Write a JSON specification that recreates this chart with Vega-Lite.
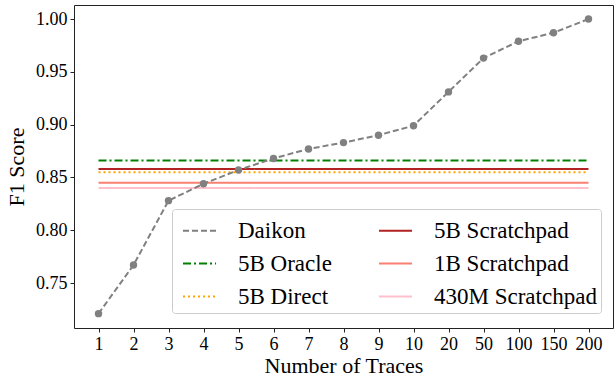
{
  "$schema": "https://vega.github.io/schema/vega-lite/v6.json",
  "autosize": {"type": "none"},
  "padding": {"left": 74, "top": 5, "right": 1, "bottom": 49},
  "width": 539,
  "height": 323,
  "background": "white",
  "config": {
    "font": "Liberation Serif",
    "view": {"stroke": "#222", "strokeWidth": 1},
    "axis": {"grid": false, "labelFont": "Liberation Serif", "titleFont": "Liberation Serif", "labelFontSize": 18, "titleFontSize": 22, "titleFontWeight": "normal", "labelColor": "#000", "titleColor": "#000", "tickColor": "#222", "domain": false, "tickSize": 4}
  },
  "datasets": {
    "daikon": [
      {"traces": "1", "f1": 0.721, "series": "Daikon"},
      {"traces": "2", "f1": 0.767, "series": "Daikon"},
      {"traces": "3", "f1": 0.828, "series": "Daikon"},
      {"traces": "4", "f1": 0.844, "series": "Daikon"},
      {"traces": "5", "f1": 0.857, "series": "Daikon"},
      {"traces": "6", "f1": 0.868, "series": "Daikon"},
      {"traces": "7", "f1": 0.877, "series": "Daikon"},
      {"traces": "8", "f1": 0.883, "series": "Daikon"},
      {"traces": "9", "f1": 0.890, "series": "Daikon"},
      {"traces": "10", "f1": 0.899, "series": "Daikon"},
      {"traces": "20", "f1": 0.931, "series": "Daikon"},
      {"traces": "50", "f1": 0.963, "series": "Daikon"},
      {"traces": "100", "f1": 0.979, "series": "Daikon"},
      {"traces": "150", "f1": 0.987, "series": "Daikon"},
      {"traces": "200", "f1": 1.000, "series": "Daikon"}
    ],
    "baselines": [
      {"traces": "1", "f1": 0.866, "series": "5B Oracle"},
      {"traces": "200", "f1": 0.866, "series": "5B Oracle"},
      {"traces": "1", "f1": 0.855, "series": "5B Direct"},
      {"traces": "200", "f1": 0.855, "series": "5B Direct"},
      {"traces": "1", "f1": 0.858, "series": "5B Scratchpad"},
      {"traces": "200", "f1": 0.858, "series": "5B Scratchpad"},
      {"traces": "1", "f1": 0.845, "series": "1B Scratchpad"},
      {"traces": "200", "f1": 0.845, "series": "1B Scratchpad"},
      {"traces": "1", "f1": 0.840, "series": "430M Scratchpad"},
      {"traces": "200", "f1": 0.840, "series": "430M Scratchpad"}
    ]
  },
  "encoding": {
    "x": {"field": "traces", "type": "ordinal", "sort": ["1","2","3","4","5","6","7","8","9","10","20","50","100","150","200"],
      "scale": {"type": "point", "domain": ["1","2","3","4","5","6","7","8","9","10","20","50","100","150","200"], "padding": 0.7},
      "axis": {"title": "Number of Traces", "labelAngle": 0, "labelPadding": 3, "titlePadding": 2}},
    "y": {"field": "f1", "type": "quantitative",
      "scale": {"domain": [0.7074, 1.0133], "nice": false, "zero": false},
      "axis": {"title": "F1 Score", "values": [0.75, 0.8, 0.85, 0.9, 0.95, 1.0], "format": ".2f", "labelPadding": 3, "titlePadding": 7}}
  },
  "layer": [
    {
      "data": {"name": "baselines"},
      "mark": {"type": "line", "strokeWidth": 2},
      "encoding": {
        "color": {"field": "series", "type": "nominal",
          "scale": {"domain": ["Daikon", "5B Oracle", "5B Direct", "5B Scratchpad", "1B Scratchpad", "430M Scratchpad"],
                    "range": ["#808080", "#008000", "#FFA500", "#B22222", "#FA8072", "#FFC0CB"]},
          "legend": {"title": null, "orient": "none", "legendX": 98, "legendY": 204, "columns": 2, "columnPadding": 40, "rowPadding": 3,
            "symbolType": "stroke", "symbolSize": 1089, "symbolStrokeWidth": 2, "symbolOffset": 6, "labelOffset": 21,
            "labelFont": "Liberation Serif", "labelFontSize": 23, "labelColor": "#000", "labelLimit": 300,
            "fillColor": "rgba(255,255,255,0.8)", "strokeColor": "#ccc", "padding": 4, "cornerRadius": 3}},
        "strokeDash": {"field": "series", "type": "nominal",
          "scale": {"domain": ["Daikon", "5B Oracle", "5B Direct", "5B Scratchpad", "1B Scratchpad", "430M Scratchpad"],
                    "range": [[6, 3], [8, 3, 2, 3], [2, 3], [1, 0], [1, 0], [1, 0]]},
          "legend": null}
      }
    },
    {
      "data": {"name": "daikon"},
      "mark": {"type": "line", "strokeWidth": 2, "color": "#808080", "strokeDash": [6, 3]},
      "encoding": {}
    },
    {
      "data": {"name": "daikon"},
      "mark": {"type": "point", "filled": true, "color": "#808080", "size": 55, "opacity": 1},
      "encoding": {}
    }
  ]
}
